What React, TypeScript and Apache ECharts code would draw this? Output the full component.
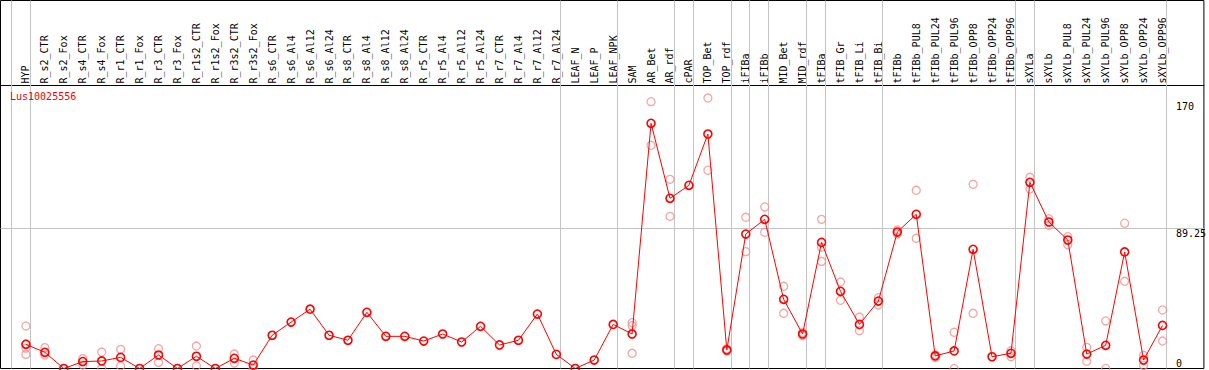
import React, { useEffect, useRef } from "react";
import * as echarts from "echarts";

const seriesName = "Lus10025556";

const categories = [
  "HYP", "R_s2_CTR", "R_s2_Fox", "R_s4_CTR", "R_s4_Fox", "R_r1_CTR", "R_r1_Fox", "R_r3_CTR", "R_r3_Fox",
  "R_r1s2_CTR", "R_r1s2_Fox", "R_r3s2_CTR", "R_r3s2_Fox", "R_s6_CTR", "R_s6_Al4", "R_s6_Al12", "R_s6_Al24",
  "R_s8_CTR", "R_s8_Al4", "R_s8_Al12", "R_s8_Al24", "R_r5_CTR", "R_r5_Al4", "R_r5_Al12", "R_r5_Al24",
  "R_r7_CTR", "R_r7_Al4", "R_r7_Al12", "R_r7_Al24", "LEAF_N", "LEAF_P", "LEAF_NPK", "SAM", "AR_Bet", "AR_rdf",
  "cPAR", "TOP_Bet", "TOP_rdf", "iFIBa", "iFIBb", "MID_Bet", "MID_rdf", "tFIBa", "tFIB_Gr", "tFIB_Li", "tFIB_Bi",
  "tFIBb", "tFIBb_PUL8", "tFIBb_PUL24", "tFIBb_PUL96", "tFIBb_OPP8", "tFIBb_OPP24", "tFIBb_OPP96", "sXYLa",
  "sXYLb", "sXYLb_PUL8", "sXYLb_PUL24", "sXYLb_PUL96", "sXYLb_OPP8", "sXYLb_OPP24", "sXYLb_OPP96",
];

const means = [
  15.4, 10.3, 0, 4.4, 4.8, 7.1, 0, 8.6, 0, 7.8, 0, 6.5, 2.2, 21.2, 29.6, 37.8, 21.2,
  18.0, 35.8, 20.5, 20.5, 17.5, 22.0, 16.9, 26.9, 15.0, 18.0, 34.7, 9.0, 0, 5.4, 28.1, 22.0,
  156.3, 108.5, 116.8, 149.5, 11.8, 85.7, 95.1, 44.1, 22.0, 80.4, 49.2, 28.1, 43.0, 87.0,
  98.3, 8.0, 11.2, 76.0, 7.5, 9.7, 118.7, 93.4, 81.9, 9.2, 14.8, 74.3, 5.4, 27.5,
];

const N = null;
const repA = [
  27.1, 13.3, N, 6.3, 10.5, 12.2, N, 12.6, N, 14.3, N, 9.2, 5.4, N, N, N, N,
  N, N, N, N, N, N, N, N, N, N, N, N, N, N, N, 29.2,
  170.1, 120.6, N, 172.4, 12.5, 96.4, 103.0, 52.4, 23.0, 95.1, 55.1, 32.8, 45.1, 88.3,
  113.6, 7.1, 23.1, 117.4, N, 11.3, 121.9, 95.5, 84.0, 13.5, 30.3, 92.6, 8.4, 37.3,
];
const repB = [
  15.6, 8.6, N, 2.2, 0, 1.6, N, 3.9, N, 1.6, N, 3.5, 0, N, N, N, N,
  N, N, N, N, N, N, N, N, N, N, N, N, N, N, N, 27.3,
  142.3, 97.0, N, 126.4, 11.2, 74.5, 86.8, 35.2, 21.0, 77.3, 43.5, 24.1, 40.5, 85.8,
  83.0, 8.8, 0, 35.2, N, 7.5, 114.4, 91.3, 78.9, 4.6, 0, 55.6, 2.0, 17.5,
];
const repC = [
  13.0, N, N, N, N, N, N, N, N, N, N, N, N, N, N, N, N,
  N, N, N, N, N, N, N, N, N, N, N, N, N, N, N, 9.7,
  N, N, N, N, N, N, N, N, N, 68.3, N, N, N, N,
  N, N, N, N, N, N, N, N, N, N, N, N, N, N,
];
const repD = [
  9.0, N, N, N, N, N, N, N, N, N, N, N, N, N, N, N, N,
  N, N, N, N, N, N, N, N, N, N, N, N, N, N, N, N,
  N, N, N, N, N, N, N, N, N, N, N, N, N, N,
  N, N, N, N, N, N, N, N, N, N, N, N, N, N,
];

// group separators are drawn just after these category indices
const separatorsAfter = [-1, 0, 28, 31, 34, 35, 37, 38, 39, 41, 42, 45, 52, 53, 60];
const midValue = 89.25;
const upperTickLabels = [89.25, 170];
const lowerTickLabels = [0];

export default function App() {
  const ref = useRef<HTMLDivElement>(null);

  useEffect(() => {
    if (!ref.current) return;
    const chart = echarts.init(ref.current, null, { renderer: "svg" });

    const W = 1209;
    const H = 370;
    const gridLeft = 0.5;
    const gridRight = 1.5;
    const gridTop = 0.5;
    const gridBottom = 1.5;
    const step = 19;
    const firstX = 26;
    const plotW = W - gridLeft - gridRight;
    const xMin = (gridLeft - firstX) / step;
    const xMax = xMin + plotW / step;
    const plotBottomY = H - gridBottom;
    const midY = 228.5;
    const pxPerUnit = (plotBottomY - midY) / midValue;
    const yMax = (plotBottomY - gridTop) / pxPerUnit;
    const headerY = 85.5;
    const sepOffset = 4 / step;

    const mono = "DejaVu Sans Mono";
    const repColor = "#f09090";
    const red = "#ff0000";
    const gray = "#c4c4c4";

    const repData: [number, number][] = [];
    [repA, repB, repC, repD].forEach((arr) =>
      arr.forEach((v, i) => {
        if (v !== null) repData.push([i, v as number]);
      })
    );
    const meanData = means.map((v, i) => [i, v]);

    const option: any = {
      animation: false,
      backgroundColor: "#ffffff",
      title: {
        text: seriesName,
        left: 10,
        top: 91,
        padding: 0,
        textStyle: { color: red, fontSize: 10, fontFamily: mono, fontWeight: "normal" },
      },
      grid: {
        left: gridLeft,
        right: gridRight,
        top: gridTop,
        bottom: gridBottom,
        show: true,
        borderColor: "#000000",
        borderWidth: 1,
        backgroundColor: "#ffffff",
        containLabel: false,
      },
      xAxis: [
        {
          type: "value",
          min: xMin,
          max: xMax,
          show: false,
        },
        {
          type: "value",
          min: xMin,
          max: xMax,
          position: "bottom",
          offset: -(plotBottomY - headerY),
          axisLine: { show: true, onZero: false, lineStyle: { color: "#000000", width: 1 } },
          axisTick: { show: false },
          splitLine: { show: false },
          axisLabel: {
            inside: true,
            rotate: 90,
            margin: 2,
            color: "#000000",
            fontSize: 10,
            fontFamily: mono,
            customValues: categories.map((_, i) => i),
            formatter: (v: number) => categories[Math.round(v)] ?? "",
          },
        },
      ],
      yAxis: [
        {
          type: "value",
          min: 0,
          max: yMax,
          position: "right",
          axisLine: { show: false },
          axisTick: { show: false },
          splitLine: { show: false },
          axisLabel: {
            inside: true,
            align: "left",
            verticalAlign: "top",
            margin: 28,
            color: "#000000",
            fontSize: 10,
            fontFamily: mono,
            customValues: upperTickLabels,
            formatter: (v: number) => String(v),
          },
        },
        {
          type: "value",
          min: 0,
          max: yMax,
          position: "right",
          axisLine: { show: false },
          axisTick: { show: false },
          splitLine: { show: false },
          axisLabel: {
            inside: true,
            align: "left",
            verticalAlign: "bottom",
            margin: 28,
            color: "#000000",
            fontSize: 10,
            fontFamily: mono,
            customValues: lowerTickLabels,
            formatter: (v: number) => String(v),
          },
        },
      ],
      series: [
        {
          type: "scatter",
          name: "replicates",
          xAxisIndex: 0,
          yAxisIndex: 0,
          data: repData,
          symbol: "circle",
          symbolSize: 8,
          clip: false,
          itemStyle: { color: "rgba(255,255,255,0)", borderColor: repColor, borderWidth: 1.3 },
          z: 2,
          silent: true,
        },
        {
          type: "line",
          name: seriesName,
          xAxisIndex: 0,
          yAxisIndex: 0,
          data: meanData,
          symbol: "circle",
          symbolSize: 8,
          showSymbol: true,
          clip: false,
          lineStyle: { color: red, width: 1 },
          itemStyle: { color: "rgba(255,255,255,0)", borderColor: red, borderWidth: 1.6 },
          z: 3,
          silent: true,
          markLine: {
            silent: true,
            symbol: "none",
            label: { show: false },
            lineStyle: { color: gray, width: 1, type: "solid" },
            z: 1,
            data: [
              ...separatorsAfter.map((i) => ({ xAxis: i + sepOffset })),
              { yAxis: midValue },
            ],
          },
        },
      ],
    };

    chart.setOption(option);
    return () => chart.dispose();
  }, []);

  return (
    <div
      ref={ref}
      style={{ position: "fixed", left: 0, top: 0, width: 1209, height: 370 }}
    />
  );
}
